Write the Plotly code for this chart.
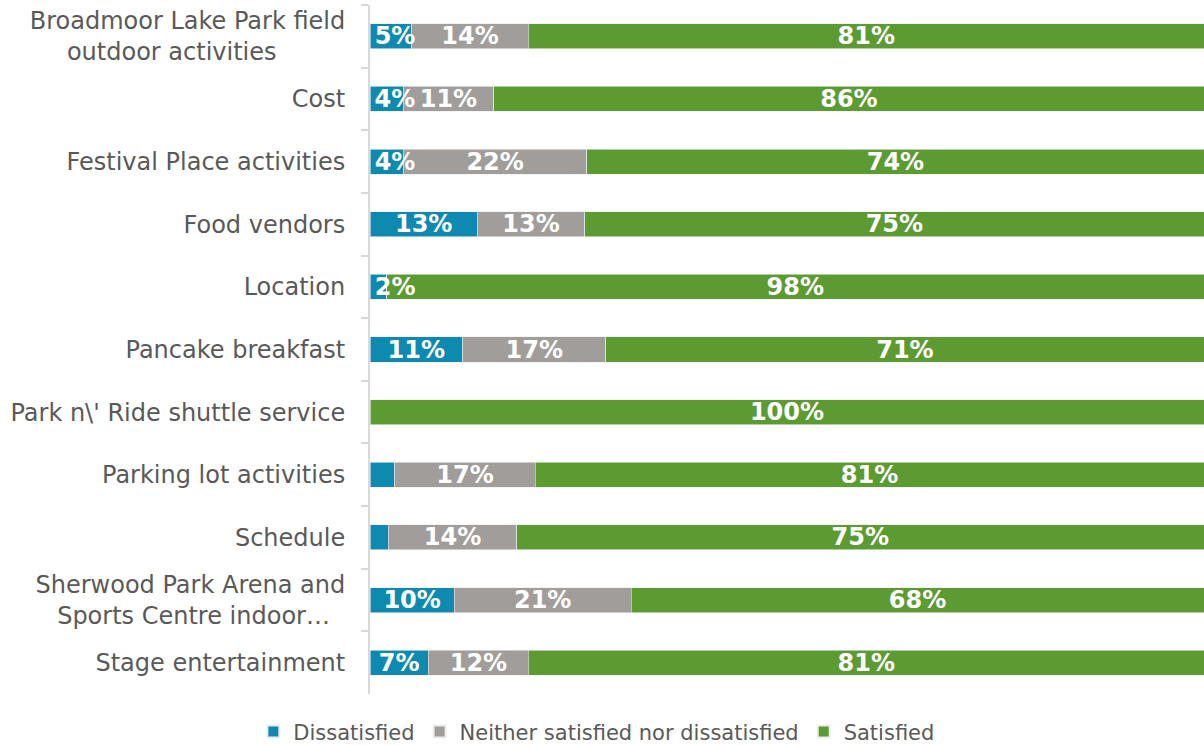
import plotly.graph_objects as go

NB = "\u00a0"
categories = [
    "Broadmoor Lake Park field<br>outdoor activities" + NB * 9,
    "Cost",
    "Festival Place activities",
    "Food vendors",
    "Location",
    "Pancake breakfast",
    "Park n\\' Ride shuttle service",
    "Parking lot activities",
    "Schedule",
    "Sherwood Park Arena and<br>Sports Centre indoor…" + NB * 2,
    "Stage entertainment",
]

# raw shares (%), chart is a 100% stacked bar
dissatisfied = [5, 4, 4, 13, 2, 11, 0, 3, 2, 10, 7]
neutral = [14, 11, 22, 13, 0, 17, 0, 17, 14, 21, 12]
satisfied = [81, 86, 74, 75, 98, 71, 100, 81, 75, 68, 81]

# data labels as shown (some were removed in the original)
dissatisfied_lbl = ["5%", "4%", "4%", "13%", "2%", "11%", "", "", "", "10%", "7%"]
neutral_lbl = ["14%", "11%", "22%", "13%", "", "17%", "", "17%", "14%", "21%", "12%"]
satisfied_lbl = ["81%", "86%", "74%", "75%", "98%", "71%", "100%", "81%", "75%", "68%", "81%"]

PLOT_W = 834
LBL_SIZE = 24


def keep_inside(vals, lbls):
    # Excel nudges labels of very thin first segments so they don't cross the axis;
    # emulate by left-padding with nbsp (label stays centred on the segment)
    out = []
    for i, (v, t) in enumerate(zip(vals, lbls)):
        total = dissatisfied[i] + neutral[i] + satisfied[i]
        center = v / total * PLOT_W / 2
        w = sum(24 if c == "%" else 16.7 for c in t) * LBL_SIZE / 24
        shift = max(0, 4 + w / 2 - center)
        out.append(NB * round(2 * shift / (0.348 * LBL_SIZE)) + t if t else t)
    return out


series = [
    ("Dissatisfied", dissatisfied, keep_inside(dissatisfied, dissatisfied_lbl), "#0E8AB0"),
    ("Neither satisfied nor dissatisfied", neutral, neutral_lbl, "#A09D9B"),
    ("Satisfied", satisfied, satisfied_lbl, "#5C9A32"),
]

fig = go.Figure()
for name, vals, lbls, color in series:
    fig.add_trace(go.Bar(
        y=categories, x=vals, name=name, orientation="h",
        marker=dict(color=color, line=dict(color="#EDEDED", width=0.6)),
        hoverinfo="skip",
    ))
# labels on an overlaid axis so they sit above every segment (as in Excel)
for name, vals, lbls, color in series:
    fig.add_trace(go.Bar(
        y=categories, x=vals, name=name, orientation="h", yaxis="y2",
        marker=dict(color="rgba(0,0,0,0)", line=dict(width=0)), showlegend=False,
        text=lbls, textposition="inside", insidetextanchor="middle",
        textangle=0, constraintext="none", cliponaxis=False,
        textfont=dict(family="DejaVu Sans", size=LBL_SIZE, color="white", weight="bold"),
        hoverinfo="skip",
    ))

fig.update_layout(
    barmode="stack", barnorm="percent", bargap=0.6,
    width=1204, height=745,
    margin=dict(l=370, r=0, t=5, b=51, autoexpand=False),
    paper_bgcolor="white", plot_bgcolor="white",
    font=dict(family="DejaVu Sans", color="#595959", size=24),
    legend=dict(orientation="h", x=0.272, xanchor="center", y=-0.055, yanchor="middle",
                font=dict(size=21, color="#595959"), traceorder="normal",
                itemwidth=30, itemsizing="constant"),
    yaxis2=dict(overlaying="y", matches="y", visible=False, type="category"),
)
fig.update_xaxes(range=[0, 100], visible=False, fixedrange=True)
fig.update_yaxes(autorange="reversed", type="category", showline=True, linecolor="#D9D9D9",
                 linewidth=2, ticks="outside", tickson="boundaries", ticklen=7,
                 tickcolor="#D9D9D9", tickwidth=1.5, ticklabelstandoff=18,
                 tickfont=dict(size=24, color="#595959"), showgrid=False, selector=dict(overlaying=None))

# page body has a default 8px margin; drop it so the chart sits at 0,0
fig.write_html("out.html", config={"displayModeBar": False},
               post_script="document.body.style.margin='0';")
